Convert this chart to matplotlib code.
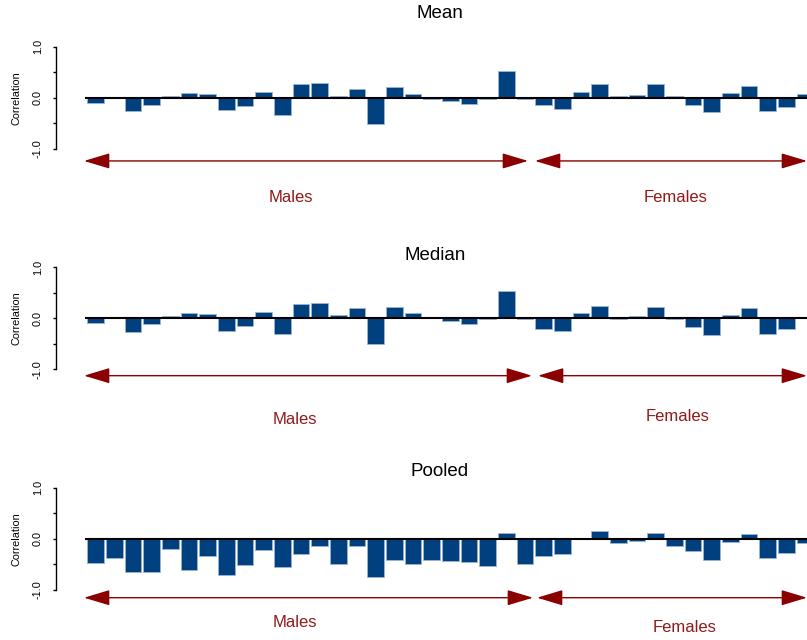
import matplotlib
matplotlib.use("Agg")
from matplotlib import pyplot as plt
from matplotlib.transforms import blended_transform_factory

# correlations per trait, males first then females (last bar is cut at the edge)
mean_vals = [-0.10, 0.01, -0.27, -0.14, 0.04, 0.09, 0.07, -0.25, -0.17, 0.12,
             -0.33, 0.27, 0.29, 0.03, 0.18, -0.52, 0.21, 0.08, -0.02, -0.07,
             -0.13, -0.03, 0.52, -0.02, -0.15, -0.22, 0.12, 0.27, 0.04, 0.06,
             0.26, 0.04, -0.14, -0.29, 0.09, 0.23, -0.26, -0.18, 0.07]
median_vals = [-0.09, 0.03, -0.26, -0.12, 0.05, 0.11, 0.08, -0.24, -0.16, 0.13,
               -0.31, 0.28, 0.30, 0.06, 0.20, -0.50, 0.23, 0.10, 0.01, -0.06,
               -0.12, -0.01, 0.54, -0.01, -0.20, -0.24, 0.10, 0.24, -0.01, 0.04,
               0.22, -0.02, -0.17, -0.33, 0.06, 0.20, -0.30, -0.21, 0.03]
pooled_vals = [-0.48, -0.37, -0.66, -0.66, -0.20, -0.62, -0.34, -0.71, -0.52, -0.22,
               -0.56, -0.30, -0.14, -0.50, -0.15, -0.76, -0.41, -0.49, -0.41, -0.43,
               -0.46, -0.54, 0.12, -0.49, -0.33, -0.30, 0.02, 0.16, -0.08, -0.05,
               0.11, -0.14, -0.25, -0.42, -0.06, 0.10, -0.37, -0.28, -0.08]
titles = ["Mean", "Median", "Pooled"]
group_labels = ["Males", "Females"]
ytick_vals = [-1.0, -0.5, 0.0, 0.5, 1.0]
ytick_labels = ["-1.0", "", "0.0", "", "1.0"]

W, H = 807, 640
BAR_BLUE = "#00407f"
ARROW_RED = "#8b0000"
TEXT_RED = "#8f1a1a"

PITCH = 18.67   # px between bars
X0 = 95.65      # px, centre of first bar
UNIT = 51.0     # px per unit of correlation
YLO, YHI = -2.1, 1.1


def px2x(px):
    return (px - X0) / PITCH


# layout of each panel (pixel row of zero line, arrow / label positions)
layout = [
    dict(zero=97.7, title=(440, 14), arrow_y=-1.24,
         males=(px2x(84), px2x(528)), females=(px2x(535), px2x(807)),
         males_txt=(px2x(291), -1.96), females_txt=(px2x(676), -1.96)),
    dict(zero=318.3, title=(435, 256), arrow_y=-1.125,
         males=(px2x(84), px2x(532)), females=(px2x(538), px2x(807)),
         males_txt=(px2x(295), -1.99), females_txt=(px2x(678), -1.92)),
    dict(zero=538.7, title=(440, 472), arrow_y=-1.157,
         males=(px2x(84), px2x(533)), females=(px2x(537), px2x(807)),
         males_txt=(px2x(295), -1.65), females_txt=(px2x(685), -1.75)),
]

plt.rcParams["font.family"] = ["Liberation Sans", "DejaVu Sans"]

fig = plt.figure(figsize=(W / 100, H / 100), dpi=100)

for vals, title, lay in zip([mean_vals, median_vals, pooled_vals], titles, layout):
    top = lay["zero"] - YHI * UNIT
    bottom = lay["zero"] - YLO * UNIT
    ax = fig.add_axes([56 / W, 1 - bottom / H, (W - 56) / W, (bottom - top) / H])
    ax.set_xlim(px2x(56), px2x(W))
    ax.set_ylim(YLO, YHI)

    ax.bar(range(len(vals)), vals, width=0.89, color=BAR_BLUE,
           edgecolor="#9db4d4", linewidth=0.6, zorder=2)
    ax.hlines(0, px2x(85), px2x(W), color="black", lw=1.5, zorder=3)

    for side in ["top", "right", "bottom"]:
        ax.spines[side].set_visible(False)
    ax.spines["left"].set_bounds(-1, 1)
    ax.spines["left"].set_linewidth(1.0)
    ax.set_xticks([])
    ax.set_yticks(ytick_vals)
    ax.set_yticklabels(ytick_labels, rotation=90, va="center")
    ax.tick_params(axis="y", length=2.5, width=1.0, pad=7, labelsize=7.8)

    trans = blended_transform_factory(fig.transFigure, ax.transData)
    ax.text(16 / W, 0, "Correlation", transform=trans, rotation=90,
            ha="center", va="center", fontsize=7.8)

    fig.text(lay["title"][0] / W, 1 - lay["title"][1] / H, title,
             ha="center", va="center", fontsize=13.5)

    for key, label, txt in [("males", group_labels[0], "males_txt"),
                            ("females", group_labels[1], "females_txt")]:
        x_start, x_end = lay[key]
        ax.annotate("", xy=(x_end, lay["arrow_y"]), xytext=(x_start, lay["arrow_y"]),
                    annotation_clip=False,
                    arrowprops=dict(arrowstyle="<|-|>,head_length=0.8,head_width=0.24",
                                    mutation_scale=20, color=ARROW_RED, lw=1.0,
                                    shrinkA=0, shrinkB=0))
        ax.text(lay[txt][0], lay[txt][1], label, ha="center", va="center",
                fontsize=12, color=TEXT_RED)

fig.savefig("out.png", dpi=100)
